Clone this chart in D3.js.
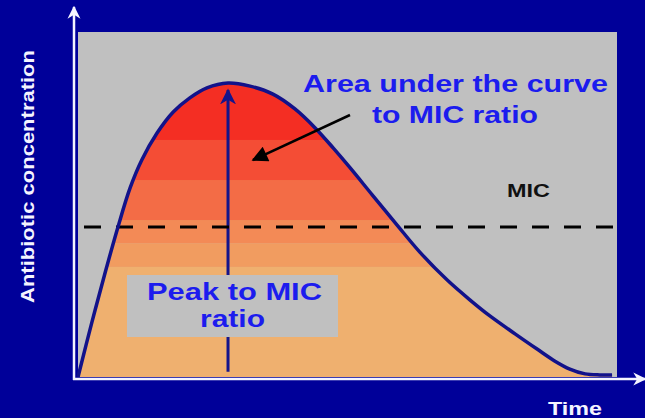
<!DOCTYPE html>
<html>
<head>
<meta charset="utf-8">
<script src="https://cdn.jsdelivr.net/npm/d3@7"></script>
<style>
  html, body { margin: 0; padding: 0; background: #000099; }
  svg { display: block; }
  text { font-family: "Liberation Sans", Arial, Helvetica, sans-serif; }
</style>
</head>
<body>
<svg id="chart" width="645" height="418"></svg>
<script>
// Concentration-time profile after a single dose (arbitrary units)
const time = [0, 0.31, 0.62, 0.89, 1.16, 1.42, 1.76, 2.12, 2.49, 2.87, 3.34, 3.83, 4.34, 4.83, 5.28, 5.68, 6.06, 6.55, 7.10, 7.61, 8.22, 8.73, 9.17, 9.73, 10.22, 10.62, 10.95, 11.29, 11.62, 11.89];
const concentration = [0, 1.59, 3.10, 4.35, 5.48, 6.29, 7.07, 7.68, 8.09, 8.38, 8.52, 8.43, 8.20, 7.77, 7.22, 6.64, 6.06, 5.28, 4.41, 3.62, 2.81, 2.23, 1.77, 1.25, 0.81, 0.46, 0.23, 0.09, 0.06, 0.06];
const micLevel = 4.35;
// Shading levels under the curve (concentration units)
const bandEdges = [0, 3.19, 3.88, 4.55, 5.71, 6.87, 10];
const bandColors = ["#efb06f", "#f19c60", "#f38a56", "#f36c46", "#f44d35", "#f42e23"];
const axisTitles = { x: "Time", y: "Antibiotic concentration" };
const annotations = { auc: ["Area under the curve", "to MIC ratio"], peak: ["Peak to MIC", "ratio"], mic: "MIC" };

const svg = d3.select("#chart");
const x = d3.scaleLinear().domain([0, 12]).range([78, 617]);
const y = d3.scaleLinear().domain([0, 10]).range([377, 32]);
const pts = time.map((t, i) => [t, concentration[i]]);

const defs = svg.append("defs");
defs.append("marker").attr("id", "whiteHead").attr("viewBox", "0 0 10 10")
  .attr("refX", 9).attr("refY", 5).attr("markerUnits", "userSpaceOnUse")
  .attr("markerWidth", 13).attr("markerHeight", 14).attr("orient", "auto")
  .append("path").attr("d", "M0,0 L10,5 L0,10 L3,5 Z").attr("fill", "#f4f4ff");
defs.append("marker").attr("id", "navyHead").attr("viewBox", "0 0 10 10")
  .attr("refX", 9).attr("refY", 5).attr("markerUnits", "userSpaceOnUse")
  .attr("markerWidth", 16).attr("markerHeight", 17).attr("orient", "auto")
  .append("path").attr("d", "M0,0 L10,5 L0,10 L3,5 Z").attr("fill", "#14148c");
defs.append("marker").attr("id", "blackHead").attr("viewBox", "0 0 10 10")
  .attr("refX", 9).attr("refY", 5).attr("markerUnits", "userSpaceOnUse")
  .attr("markerWidth", 21).attr("markerHeight", 16).attr("orient", "auto")
  .append("path").attr("d", "M0,0 L10,5 L0,10 Z").attr("fill", "#000");

// Plot background
svg.append("rect")
  .attr("x", x.range()[0]).attr("y", y.range()[1])
  .attr("width", x.range()[1] - x.range()[0]).attr("height", y.range()[0] - y.range()[1])
  .attr("fill", "#c0c0c0");

// Area under the curve, shaded in horizontal bands
const curve = d3.curveCatmullRom.alpha(0.5);
const area = d3.area().x(d => x(d[0])).y0(y(0)).y1(d => y(d[1])).curve(curve);
defs.append("clipPath").attr("id", "aucClip").append("path").attr("d", area(pts));
const bands = d3.range(bandColors.length).map(i => ({ lo: bandEdges[i], hi: bandEdges[i + 1], color: bandColors[i] }));
svg.append("g").attr("clip-path", "url(#aucClip)")
  .selectAll("rect").data(bands).join("rect")
  .attr("x", x.range()[0]).attr("width", x.range()[1] - x.range()[0])
  .attr("y", d => y(d.hi)).attr("height", d => y(d.lo) - y(d.hi))
  .attr("fill", d => d.color);

// Peak arrow
const peakIdx = d3.maxIndex(concentration);
svg.append("line")
  .attr("x1", x(time[peakIdx])).attr("x2", x(time[peakIdx]))
  .attr("y1", y(0.15)).attr("y2", y(concentration[peakIdx]) + 7)
  .attr("stroke", "#14148c").attr("stroke-width", 3)
  .attr("marker-end", "url(#navyHead)");

// Peak label box
const box = svg.append("g");
box.append("rect").attr("x", 127).attr("y", 275).attr("width", 211).attr("height", 62).attr("fill", "#c0c0c0");
box.append("text").attr("x", 147).attr("y", 300).attr("textLength", 175).attr("lengthAdjust", "spacingAndGlyphs")
  .attr("font-size", 24).attr("font-weight", "bold").attr("fill", "#1c1cee").text(annotations.peak[0]);
box.append("text").attr("x", 200).attr("y", 327).attr("textLength", 65).attr("lengthAdjust", "spacingAndGlyphs")
  .attr("font-size", 24).attr("font-weight", "bold").attr("fill", "#1c1cee").text(annotations.peak[1]);

// MIC threshold
svg.append("line")
  .attr("x1", x.range()[0] + 6).attr("x2", x.range()[1] + 6)
  .attr("y1", y(micLevel)).attr("y2", y(micLevel))
  .attr("stroke", "#000").attr("stroke-width", 3).attr("stroke-dasharray", "17,15");

// Concentration curve
const line = d3.line().x(d => x(d[0])).y(d => y(d[1])).curve(curve);
svg.append("path").attr("d", line(pts)).attr("fill", "none")
  .attr("stroke", "#12128a").attr("stroke-width", 3.5).attr("stroke-linejoin", "round");

// AUC pointer
svg.append("line").attr("x1", 350).attr("y1", 115).attr("x2", 253).attr("y2", 160)
  .attr("stroke", "#000").attr("stroke-width", 2.5).attr("marker-end", "url(#blackHead)");

// AUC label
svg.append("text").attr("x", 303).attr("y", 92).attr("textLength", 305).attr("lengthAdjust", "spacingAndGlyphs")
  .attr("font-size", 24).attr("font-weight", "bold").attr("fill", "#1c1cee").text(annotations.auc[0]);
svg.append("text").attr("x", 372).attr("y", 123).attr("textLength", 166).attr("lengthAdjust", "spacingAndGlyphs")
  .attr("font-size", 24).attr("font-weight", "bold").attr("fill", "#1c1cee").text(annotations.auc[1]);

// MIC label
svg.append("text").attr("x", 507).attr("y", 197).attr("textLength", 43).attr("lengthAdjust", "spacingAndGlyphs")
  .attr("font-size", 18).attr("font-weight", "bold").attr("fill", "#111").text(annotations.mic);

// Axes with arrowheads
svg.append("line").attr("x1", 74).attr("x2", 74).attr("y1", 380).attr("y2", 7)
  .attr("stroke", "#f4f4ff").attr("stroke-width", 2.5).attr("marker-end", "url(#whiteHead)");
svg.append("line").attr("x1", 73).attr("x2", 645).attr("y1", 379).attr("y2", 379)
  .attr("stroke", "#f4f4ff").attr("stroke-width", 2.5).attr("marker-end", "url(#whiteHead)");

// Axis titles
svg.append("text").attr("x", 548).attr("y", 415).attr("textLength", 54).attr("lengthAdjust", "spacingAndGlyphs")
  .attr("font-size", 18).attr("font-weight", "bold").attr("fill", "#f4f4ff").text(axisTitles.x);
svg.append("text").attr("transform", "translate(34,303) rotate(-90)")
  .attr("textLength", 253).attr("lengthAdjust", "spacingAndGlyphs")
  .attr("font-size", 18).attr("font-weight", "bold").attr("fill", "#f4f4ff").text(axisTitles.y);
</script>
</body>
</html>
